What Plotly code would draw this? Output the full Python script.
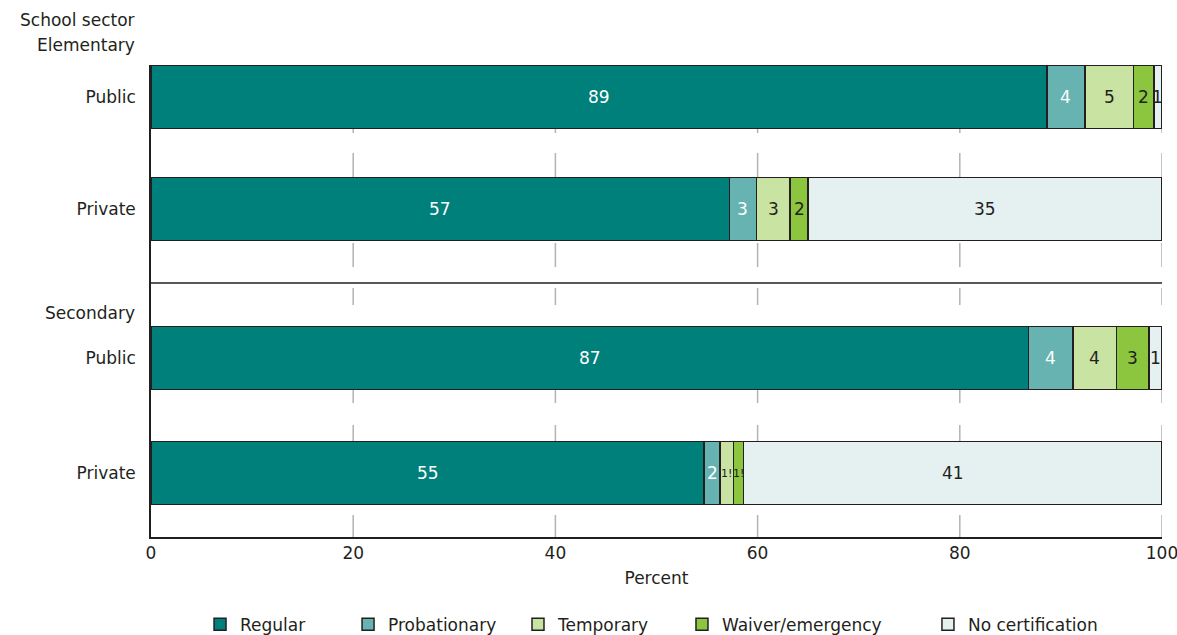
import plotly.graph_objs as go

# Rows, top to bottom
rows = ['Elementary Public', 'Elementary Private', 'Secondary Public', 'Secondary Private']
row_labels = ['Public', 'Private', 'Public', 'Private']

# Percent of teachers by certification type
regular = [88.6, 57.2, 86.8, 54.7]
probationary = [3.8, 2.7, 4.4, 1.6]
temporary = [4.8, 3.3, 4.3, 1.3]
waiver = [2.0, 1.8, 3.2, 1.0]
no_cert = [0.8, 35.0, 1.3, 41.4]

# Printed labels on the bars
regular_txt = ['89', '57', '87', '55']
probationary_txt = ['4', '3', '4', '2']
temporary_txt = ['5', '3', '4', '1!']
waiver_txt = ['2', '2', '3', '1!']
no_cert_txt = ['1', '35', '1', '41']

x_ticks = [0, 20, 40, 60, 80, 100]

# Layout: y axis runs in pixel units so rows sit where the original puts them
row_y = [97, 209, 358, 473]
y_top, y_bot = 65, 537
font = 'DejaVu Sans'
fs = 17
ink = '#231f20'

series = [
    ('Regular', regular, regular_txt, '#00807a', 'white'),
    ('Probationary', probationary, probationary_txt, '#66b3b1', 'white'),
    ('Temporary', temporary, temporary_txt, '#c9e4a2', ink),
    ('Waiver/emergency', waiver, waiver_txt, '#8cc63f', ink),
    ('No certification', no_cert, no_cert_txt, '#e5f1f1', ink),
]
# left edge of each legend box (paper fraction), spread out like the original
legend_x = [0.0485, 0.1949, 0.3630, 0.5252, 0.7685]
legend_y = -0.186

data = []
annotations = []
legends = {}
base = [0.0] * len(rows)
for k, (name, vals, txt, color, tcolor) in enumerate(series):
    lg = 'legend' if k == 0 else 'legend%d' % (k + 1)
    legends[lg] = dict(orientation='h', x=legend_x[k], xanchor='left', y=legend_y,
                       yanchor='middle', font=dict(family=font, size=fs, color=ink),
                       bgcolor='rgba(0,0,0,0)')
    data.append(go.Bar(
        name=name, orientation='h', x=vals, y=row_y, base=base, legend=lg,
        width=63, marker=dict(color=color, line=dict(color=ink, width=1.5)),
        hoverinfo='x+name'))
    for i, v in enumerate(vals):
        small = len(txt[i]) > 1 and v < 2
        annotations.append(dict(
            x=base[i] + v / 2, y=row_y[i], xref='x', yref='y', text=txt[i],
            showarrow=False, font=dict(family=font, size=11 if small else fs, color=tcolor)))
    base = [b + v for b, v in zip(base, vals)]


def py(pix):
    # pixel row -> paper fraction of the plot area
    return (y_bot - pix) / (y_bot - y_top)


# Group headers on the left
for text, ypix in [('School sector', 20), ('Elementary', 45), ('Secondary', 313)]:
    annotations.append(dict(
        x=0, y=py(ypix), xref='paper', yref='paper', xanchor='right', yanchor='middle',
        xshift=-14, text=text, showarrow=False,
        font=dict(family=font, size=fs, color=ink)))

# grid only shows in short pieces between the bars, like the original
shapes = [dict(type='line', xref='paper', yref='y', x0=0, x1=1, y0=283, y1=283,
               line=dict(color=ink, width=1.5))]
grid_pieces = [(129, 133), (153, 178), (243, 267), (288, 305), (390, 403), (425, 441), (515, 537)]
for t in x_ticks[1:]:
    for a, b in grid_pieces:
        shapes.append(dict(type='line', xref='x', yref='y', x0=t, x1=t, y0=a, y1=b,
                           layer='below', line=dict(color='#b3b3b3', width=1.5)))

layout = go.Layout(
    width=1177, height=635,
    margin=dict(l=151, r=15, t=65, b=98, autoexpand=False),
    barmode='stack',
    plot_bgcolor='white', paper_bgcolor='white',
    font=dict(family=font, size=fs, color=ink),
    xaxis=dict(range=[0, 100], tickvals=x_ticks, showgrid=False,
               showline=True, linecolor=ink, linewidth=1.5, ticklabeloverflow='allow',
               zeroline=False, ticks='',
               title=dict(text='Percent', standoff=10, font=dict(size=fs))),
    yaxis=dict(range=[y_bot, y_top], tickvals=row_y, ticktext=row_labels, showgrid=False,
               showline=True, linecolor=ink, linewidth=1.5, zeroline=False,
               ticks='', ticklabelstandoff=10),
    shapes=shapes,
    annotations=annotations,
    showlegend=True,
    **legends,
)

fig = go.Figure(data=data, layout=layout)
fig.write_html('out.html', config={'displayModeBar': False},
               post_script="document.body.style.margin='0';")
